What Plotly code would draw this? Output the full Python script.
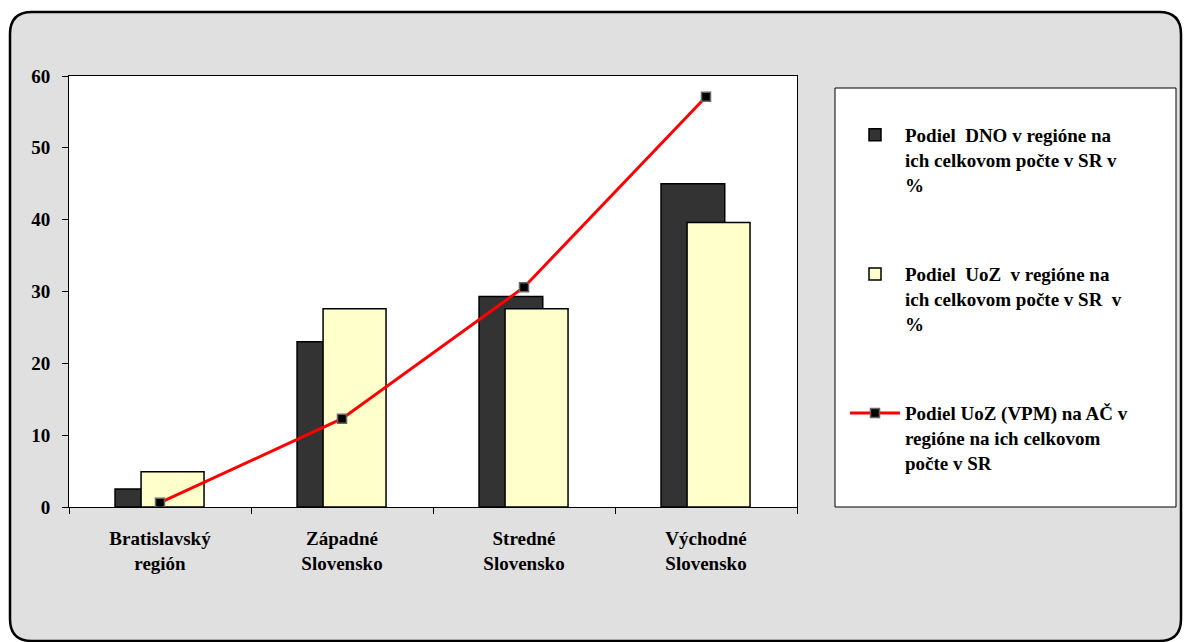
import plotly.graph_objects as go

regions = ['Bratislavský<br>región', 'Západné<br>Slovensko',
           'Stredné<br>Slovensko', 'Východné<br>Slovensko']
dno_share = [2.5, 23.0, 29.3, 45.0]
uoz_share = [4.9, 27.6, 27.6, 39.6]
uoz_vpm_share = [0.6, 12.3, 30.6, 57.1]

name_dno = 'Podiel  DNO v regióne na<br>ich celkovom počte v SR v<br>%'
name_uoz = 'Podiel  UoZ  v regióne na<br>ich celkovom počte v SR  v<br>%'
name_vpm = 'Podiel UoZ (VPM) na AČ v<br>regióne na ich celkovom<br>počte v SR'

serif = 'Liberation Serif, Times New Roman, serif'

fig = go.Figure()

# dark bars sit behind the light ones, shifted left
fig.add_trace(go.Bar(
    x=regions, y=dno_share, name=name_dno, legendgroup='a',
    width=0.35, offset=-0.247,
    marker=dict(color='#333333', line=dict(color='black', width=1.5))
))
fig.add_trace(go.Bar(
    x=regions, y=uoz_share, name=name_uoz, legendgroup='b',
    width=0.346, offset=-0.104,
    marker=dict(color='#ffffcc', line=dict(color='black', width=1.5))
))
fig.add_trace(go.Scatter(
    x=regions, y=uoz_vpm_share, name=name_vpm, legendgroup='c',
    mode='lines+markers',
    line=dict(color='#ff0000', width=3),
    marker=dict(symbol='square', size=9, color='black',
                line=dict(color='#666666', width=1.5))
))

# background frame, plot area and legend box (paper coords)
pw, ph = 728, 431
ml, mb_y = 69, 507
def px(x):
    return (x - ml) / pw
def py(y):
    return (mb_y - y) / ph

x0, x1, y0, y1 = px(10), px(1181), py(641), py(12)
rx, ry = 22 / pw, 22 / ph
frame = (f'M {x0 + rx},{y1} L {x1 - rx},{y1} Q {x1},{y1} {x1},{y1 - ry} '
         f'L {x1},{y0 + ry} Q {x1},{y0} {x1 - rx},{y0} '
         f'L {x0 + rx},{y0} Q {x0},{y0} {x0},{y0 + ry} '
         f'L {x0},{y1 - ry} Q {x0},{y1} {x0 + rx},{y1} Z')

shapes = [
    dict(type='path', xref='paper', yref='paper', path=frame, layer='below',
         fillcolor='#e0e0e0', line=dict(color='black', width=2.5)),
    dict(type='rect', xref='paper', yref='paper', x0=0, x1=1, y0=0, y1=1,
         layer='below', fillcolor='white', line=dict(width=0)),
    dict(type='rect', xref='paper', yref='paper',
         x0=px(835), x1=px(1176), y0=py(507), y1=py(88),
         layer='below', fillcolor='white', line=dict(color='black', width=1)),
]

fig.update_layout(
    width=1184, height=642,
    margin=dict(l=69, r=387, t=76, b=135),
    paper_bgcolor='white',
    plot_bgcolor='rgba(0,0,0,0)',
    barmode='overlay',
    shapes=shapes,
    font=dict(family=serif, color='black', size=19, weight='bold'),
    showlegend=True,
    legend=dict(
        x=px(845), y=py(116), xanchor='left', yanchor='top',
        bgcolor='rgba(0,0,0,0)', borderwidth=0,
        tracegroupgap=62, valign='top', itemwidth=50,
        font=dict(family=serif, size=19, color='black', weight='bold'),
    ),
    xaxis=dict(
        showline=True, linecolor='black', linewidth=1, mirror=True,
        ticks='outside', tickson='boundaries', ticklen=6, tickcolor='black',
        showgrid=False, ticklabelstandoff=14,
        tickfont=dict(family=serif, size=19, weight='bold'),
    ),
    yaxis=dict(
        range=[0, 60], dtick=10,
        showline=True, linecolor='black', linewidth=1, mirror=True,
        ticks='outside', ticklen=6, tickcolor='black',
        showgrid=False, zeroline=False, ticklabelstandoff=8,
        tickfont=dict(family=serif, size=19, weight='bold'),
    ),
)

fig.write_html('out.html', config={'displayModeBar': False},
               post_script="document.body.style.margin='0';")
